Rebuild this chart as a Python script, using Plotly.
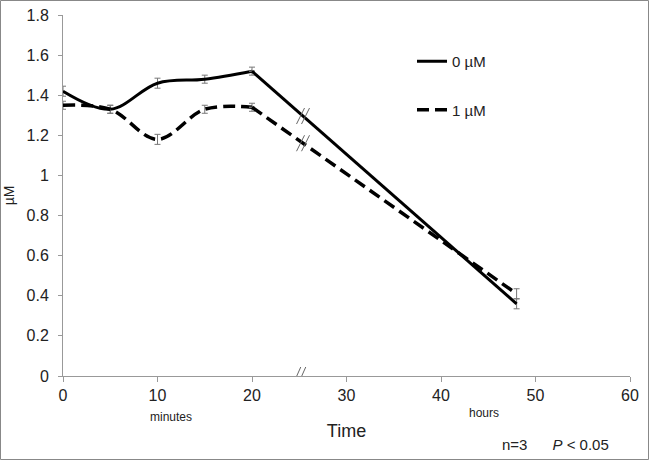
import numpy as np
import plotly.graph_objects as go

time = [0, 5, 10, 15, 20, 48]
conc_0uM = [1.42, 1.33, 1.46, 1.48, 1.52, 0.36]
err_0uM = [0.025, 0.02, 0.025, 0.02, 0.02, 0.025]
conc_1uM = [1.35, 1.33, 1.18, 1.33, 1.34, 0.41]
err_1uM = [0.02, 0.02, 0.025, 0.02, 0.02, 0.025]
x_ticks = [0, 10, 20, 30, 40, 50, 60]
y_ticks = [0, 0.2, 0.4, 0.6, 0.8, 1, 1.2, 1.4, 1.6, 1.8]

FONT = "Liberation Sans, Arial, sans-serif"
L, R, T, B = 63, 19, 15, 84
W, H = 649, 460
PW, PH = W - L - R, H - T - B

fig = go.Figure()
styles = [
    ("0 µM", conc_0uM, err_0uM, dict(color="black", width=3)),
    ("1 µM", conc_1uM, err_1uM, dict(color="black", width=3.5, dash="12px,6px")),
]
for name, vals, errs, ln in styles:
    # minutes part (smoothed)
    fig.add_trace(go.Scatter(
        x=time[:5], y=vals[:5], name=name, mode="lines",
        line=dict(shape="spline", smoothing=1.0, **ln),
        error_y=dict(type="data", array=errs[:5], color="#777777", thickness=1, width=3),
        legendgroup=name))
    # hours part
    fig.add_trace(go.Scatter(
        x=time[4:], y=vals[4:], name=name, mode="lines", showlegend=False,
        line=dict(**ln),
        error_y=dict(type="data", array=[0] + errs[5:], color="#777777", thickness=1, width=3),
        legendgroup=name))


def break_mark(xa, ya, half_h=8, half_w=4, sep=5):
    for off in (-sep / 2, sep / 2):
        fig.add_shape(type="line", xref="x", yref="y",
                      xsizemode="pixel", ysizemode="pixel",
                      xanchor=xa, yanchor=ya,
                      x0=off - half_w, x1=off + half_w, y0=-half_h, y1=half_h,
                      line=dict(color="#666666", width=1))


break_x = 25.4
for series in (conc_0uM, conc_1uM):
    break_mark(break_x, float(np.interp(break_x, time, series)))
break_mark(25.0, 0, half_h=9, half_w=4)

fig.add_annotation(x=11.4, xref="x", yref="paper", y=-(417 - 376) / PH, text="minutes",
                   showarrow=False, font=dict(family=FONT, size=12, color="#222"),
                   yanchor="middle")
fig.add_annotation(x=44.5, xref="x", yref="paper", y=-(413 - 376) / PH, text="hours",
                   showarrow=False, font=dict(family=FONT, size=12, color="#222"),
                   yanchor="middle")
fig.add_annotation(xref="paper", yref="paper", x=(555 - L) / PW, y=-(444 - 376) / PH,
                   text="n=3      <i>P</i> < 0.05",
                   showarrow=False, font=dict(family=FONT, size=15, color="#222"),
                   yanchor="middle", xanchor="center")

# outer frame
fig.add_shape(type="rect", xref="paper", yref="paper",
              x0=-(L - 0.5) / PW, x1=(W - 0.5 - L) / PW,
              y0=-(B - 0.5) / PH, y1=(H - B - 0.5) / PH,
              line=dict(color="#888888", width=1))

fig.update_layout(
    width=W, height=H,
    margin=dict(l=L, r=R, t=T, b=B, autoexpand=False),
    paper_bgcolor="white", plot_bgcolor="white",
    font=dict(family=FONT, size=13, color="#222"),
    showlegend=True,
    legend=dict(x=(412 - L) / PW, y=(376 - 45) / PH, xanchor="left", yanchor="top",
                tracegroupgap=26, font=dict(size=15), itemwidth=30,
                bgcolor="rgba(0,0,0,0)"),
    xaxis=dict(range=[0, 60], tickvals=x_ticks, showgrid=False, zeroline=False,
               showline=True, linecolor="#999999", linewidth=1,
               ticks="outside", ticklen=5, tickcolor="#999999",
               tickfont=dict(size=16),
               title=dict(text="Time", font=dict(size=18), standoff=21)),
    yaxis=dict(range=[0, 1.8], tickvals=y_ticks, showgrid=False, zeroline=False,
               showline=True, linecolor="#999999", linewidth=1,
               ticks="outside", ticklen=4, tickcolor="#999999",
               tickfont=dict(size=16), ticklabelstandoff=6,
               title=dict(text="µM", font=dict(size=14), standoff=8)),
)
fig.write_html("out.html", config={"displayModeBar": False},
               post_script="document.body.style.margin='0';document.body.style.overflow='hidden';")
